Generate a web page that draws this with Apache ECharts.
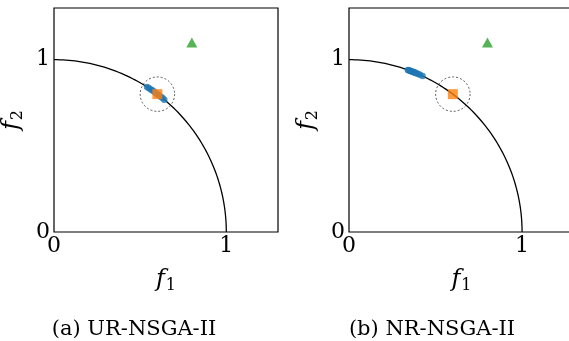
<!DOCTYPE html>
<html><head><meta charset="utf-8">
<script src="https://cdn.jsdelivr.net/npm/echarts@6/dist/echarts.min.js"></script>
<style>html,body{margin:0;padding:0;background:#fff}#c{width:569px;height:341px}</style>
</head><body><div id="c"></div>
<script>
// Data
const tickLabels = [0, 1];
const captions = ['(a) UR-NSGA-II', '(b) NR-NSGA-II'];
const referencePoint = [0.6, 0.8];
const anchorPoint = [0.8, 1.1];
const urSolutions = [[0.54,0.842],[0.55,0.835],[0.56,0.828],[0.57,0.822],[0.58,0.815],[0.59,0.807],[0.60,0.800],[0.61,0.792],[0.62,0.785],[0.63,0.777],[0.64,0.768]];
const nrSolutions = [[0.34,0.940],[0.345,0.939],[0.35,0.937],[0.355,0.935],[0.36,0.933],[0.365,0.931],[0.37,0.929],[0.375,0.927],[0.38,0.925],[0.385,0.923],[0.39,0.921],[0.40,0.917],[0.41,0.912],[0.425,0.905]];
const regionRadius = 0.1;
// true Pareto front: unit quarter circle (analytic)
const paretoFront = [];
for (let i = 0; i <= 180; i++) { const t = Math.PI / 2 * i / 180; paretoFront.push([Math.cos(t), Math.sin(t)]); }

const serif = 'DejaVu Serif';
const chart = echarts.init(document.getElementById('c'), null, {renderer: 'canvas'});
const gridW = 224;
const grids = [
  {left: 54, top: 8, width: gridW, height: gridW},
  {left: 349, top: 8, width: 225, height: gridW}
];
const rich = {
  f: {fontFamily: serif, fontStyle: 'italic', fontSize: 24, color: '#000'},
  s: {fontFamily: serif, fontSize: 16, color: '#000', padding: [12, 0, 0, 1]}
};
const xAxes = [], yAxes = [];
grids.forEach((g, i) => {
  xAxes.push({type: 'value', gridIndex: i, min: 0, max: 1.3, interval: 1,
    name: '{f|f}{s|1}', nameLocation: 'middle', nameGap: 34, nameTextStyle: {rich},
    axisLine: {show: false}, axisTick: {show: false}, splitLine: {show: false},
    axisLabel: {margin: 3, fontFamily: serif, fontSize: 22, color: '#000',
      formatter: v => tickLabels.includes(v) ? String(v) : ''}});
  yAxes.push({type: 'value', gridIndex: i, min: 0, max: 1.3, interval: 1,
    name: '{f|f}{s|2}', nameLocation: 'middle', nameGap: 28, nameRotate: 90, nameTextStyle: {rich},
    axisLine: {show: false}, axisTick: {show: false}, splitLine: {show: false},
    axisLabel: {margin: 4, fontFamily: serif, fontSize: 22, color: '#000',
      formatter: v => tickLabels.includes(v) ? String(v) : ''}});
});
const pxPerUnit = gridW / 1.3;
const series = [];
[urSolutions, nrSolutions].forEach((sol, i) => {
  series.push({type: 'line', xAxisIndex: i, yAxisIndex: i, data: paretoFront, showSymbol: false,
    lineStyle: {color: '#000', width: 1.3}, z: 1, silent: true});
  series.push({type: 'scatter', xAxisIndex: i, yAxisIndex: i, data: [referencePoint],
    symbol: 'circle', symbolSize: 2 * regionRadius * pxPerUnit,
    itemStyle: {color: 'rgba(0,0,0,0)', borderColor: '#333', borderWidth: 1, borderType: [2, 2]}, z: 2});
  series.push({type: 'scatter', xAxisIndex: i, yAxisIndex: i, data: sol, symbol: 'circle', symbolSize: 6.5,
    itemStyle: {color: '#1f77b4'}, z: 3});
  series.push({type: 'scatter', xAxisIndex: i, yAxisIndex: i, data: [referencePoint], symbol: 'rect', symbolSize: 10,
    itemStyle: {color: '#ff7f0e'}, z: 4});
  series.push({type: 'scatter', xAxisIndex: i, yAxisIndex: i, data: [anchorPoint], symbol: 'triangle', symbolSize: [11, 10],
    itemStyle: {color: '#2ca02c'}, z: 4});
});
chart.setOption({
  animation: false,
  grid: grids.map(g => Object.assign({show: true, borderColor: '#000', borderWidth: 1.2, backgroundColor: 'transparent',
    containLabel: false, outerBoundsMode: 'none'}, g)),
  xAxis: xAxes, yAxis: yAxes, series,
  graphic: [
    {type: 'text', x: 134, y: 330, style: {text: captions[0], font: '21px "' + serif + '"', fill: '#000', align: 'center', verticalAlign: 'middle'}},
    {type: 'text', x: 432, y: 330, style: {text: captions[1], font: '21px "' + serif + '"', fill: '#000', align: 'center', verticalAlign: 'middle'}}
  ]
});
</script></body></html>
